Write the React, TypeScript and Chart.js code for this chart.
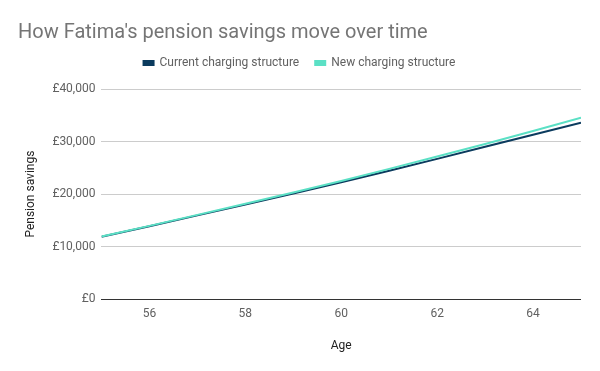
import React, { useEffect, useRef } from "react";
import { Chart, registerables } from "chart.js";

Chart.register(...registerables);

const ages = [55, 56, 57, 58, 59, 60, 61, 62, 63, 64, 65];
const currentStructure = [11900, 13900, 15950, 18000, 20100, 22250, 24450, 26700, 29000, 31300, 33600];
const newStructure = [11950, 13950, 16050, 18150, 20300, 22500, 24800, 27150, 29550, 32000, 34550];
const xTicks = [56, 58, 60, 62, 64];
const yTicks = [0, 10000, 20000, 30000, 40000];
const seriesNames = ["Current charging structure", "New charging structure"];

const legendGap = {
  id: "legendGap",
  beforeInit(chart: any) {
    const orig = chart.legend.fit;
    chart.legend.fit = function () {
      orig.bind(this)();
      this.height += 10;
    };
  },
};

export default function App() {
  const ref = useRef<HTMLCanvasElement | null>(null);
  useEffect(() => {
    document.body.style.margin = "0";
    const ctx = ref.current!;
    const chart = new Chart(ctx, {
      type: "line",
      data: {
        datasets: [
          {
            label: seriesNames[0],
            data: ages.map((a, i) => ({ x: a, y: currentStructure[i] })),
            borderColor: "#0b3b5e",
            backgroundColor: "#0b3b5e",
            borderWidth: 2,
            pointRadius: 0,
            order: 1,
          },
          {
            label: seriesNames[1],
            data: ages.map((a, i) => ({ x: a, y: newStructure[i] })),
            borderColor: "#5be0c5",
            backgroundColor: "#5be0c5",
            borderWidth: 2,
            pointRadius: 0,
            order: 0,
          },
        ],
      },
      plugins: [legendGap],
      options: {
        animation: false,
        responsive: false,
        maintainAspectRatio: false,
        layout: { padding: { left: 18, right: 19, top: 8, bottom: 18 } },
        plugins: {
          title: {
            display: true,
            text: "How Fatima's pension savings move over time",
            align: "start",
            color: "#757575",
            font: { family: "Roboto", size: 20, weight: "normal" },
            padding: { top: 13, bottom: -4 },
          },
          legend: {
            display: true,
            position: "top",
            labels: {
              boxWidth: 10,
              boxHeight: 4,
              color: "#616161",
              font: { family: "Roboto", size: 12 },
              padding: 16,
              sort: (a: any, b: any) => a.datasetIndex - b.datasetIndex,
            },
          },
          tooltip: { enabled: false },
        },
        scales: {
          x: {
            type: "linear",
            min: 55,
            max: 65,
            afterBuildTicks: (axis: any) => {
              axis.ticks = xTicks.map((v) => ({ value: v }));
            },
            grid: { display: false },
            border: { display: false },
            ticks: {
              color: "#616161",
              font: { family: "Roboto", size: 12 },
              padding: 0,
            },
            title: {
              display: true,
              text: "Age",
              color: "#222222",
              font: { family: "Roboto", size: 12 },
              padding: { top: 17, bottom: 0 },
            },
          },
          y: {
            min: 0,
            max: 40000,
            afterBuildTicks: (axis: any) => {
              axis.ticks = yTicks.map((v) => ({ value: v }));
            },
            grid: {
              color: (c: any) => (c.tick && c.tick.value === 0 ? "#333333" : "#cccccc"),
              lineWidth: 1,
              drawTicks: false,
            },
            border: { display: false },
            ticks: {
              color: "#616161",
              font: { family: "Roboto", size: 12 },
              padding: 6,
              callback: (v: any) => "£" + Number(v).toLocaleString("en-GB"),
            },
            title: {
              display: true,
              text: "Pension savings",
              color: "#222222",
              font: { family: "Roboto", size: 12 },
              padding: { top: 6, bottom: 8 },
            },
          },
        },
      },
    } as any);
    return () => chart.destroy();
  }, []);
  return <canvas ref={ref} width={600} height={371} style={{ display: "block" }} />;
}
